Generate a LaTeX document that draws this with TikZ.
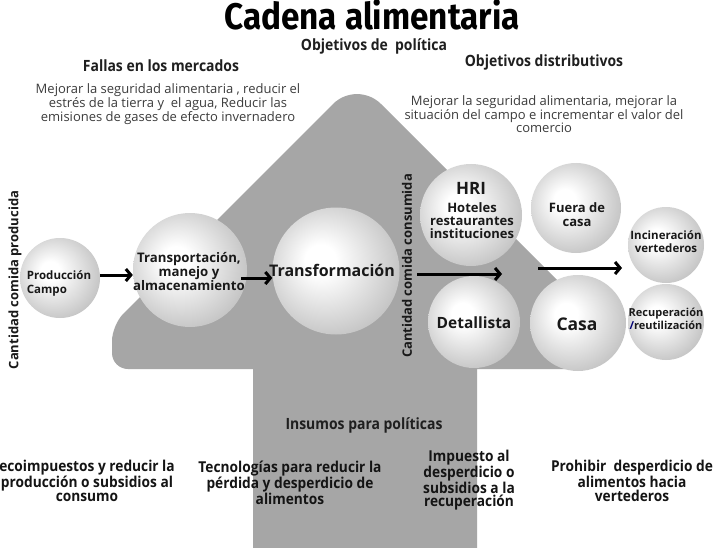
\documentclass[tikz,border=0pt]{standalone}
\usepackage{fontspec}
\usepackage{graphicx}
\setmainfont{Open Sans}
\newfontfamily\titlefont{Fira Sans}[FakeStretch=0.9]
\newfontfamily\condfont{Open Sans}[FakeStretch=0.9]
\newfontfamily\bcondfont{Open Sans}[FakeStretch=0.915]
\usetikzlibrary{arrows.meta,calc}
\definecolor{arrowgrey}{HTML}{A6A6A6}
\definecolor{circedge}{HTML}{BCBCBC}
\definecolor{bodytext}{HTML}{3C3C3C}
\pgfdeclareradialshading{myball}{\pgfpoint{-7bp}{5bp}}{color(0bp)=(white); color(6bp)=(white); color(32bp)=(circedge); color(50bp)=(circedge)}
\begin{document}
\begin{tikzpicture}[x=1pt,y=-1pt,
  ball/.style={circle, inner sep=0pt, shading=myball},
  flow/.style={line width=3pt, -{Straight Barb[length=5pt,width=12pt]}},
  head/.style={font=\condfont\bfseries\fontsize{15.5}{16}\selectfont, text=black!88, inner sep=1pt},
  para/.style={font=\fontsize{13}{13}\selectfont, text=bodytext, align=center},
  bottom/.style={font=\bcondfont\bfseries\fontsize{15}{13.5}\selectfont, align=center, text=black!92},
  inlbl/.style={font=\bfseries\fontsize{12.5}{13.5}\selectfont, align=center, text=black!90},
  vlbl/.style={font=\bfseries\fontsize{13}{15}\selectfont, rotate=90, text=black!90},
]
\useasboundingbox (0,0) rectangle (714,548);
\fill[white] (0,0) rectangle (714,548);
% big arrow
\fill[arrowgrey] (253,548) -- (253,369) [rounded corners=16] -- (112,369) -- (112,325) [rounded corners=34] -- (357,80) [rounded corners=16] -- (602,325) -- (602,369) [sharp corners] -- (477,369) -- (477,548) -- cycle;

% title and headings
\node[anchor=base, inner sep=0pt, text depth=0pt] (title) at (372,30) {\titlefont\bfseries\fontsize{37}{37}\selectfont Cadena alimentaria};
\node[head] (objpol) at (374,46) {Objetivos de\ \ política};
\node[head] (fallas) at (161,66) {Fallas en los mercados};
\node[head] (objdist) at (544,62) {Objetivos distributivos};
\node[para] (paraL) at (168,104) {Mejorar la seguridad alimentaria , reducir el\\estrés de la tierra y\ \ el agua, Reducir las\\emisiones de gases de efecto invernadero};
\node[para] (paraR) at (544,114) {Mejorar la seguridad alimentaria, mejorar la\\situación del campo e incrementar el valor del\\comercio};

% vertical labels
\node[vlbl] (vprod) at (15,280) {Cantidad comida producida};
\node[vlbl] (vcons) at (407,266) {Cantidad comida consumida};

% circles
\node[ball, minimum size=80] (prod) at (60,278) {};
\node[ball, minimum size=114] (trans) at (190,270) {};
\node[ball, minimum size=127] (transf) at (336,271) {};
\node[ball, minimum size=102] (hri) at (471,215) {};
\node[ball, minimum size=92] (detal) at (474,322) {};
\node[ball, minimum size=90] (fuera) at (576,208) {};
\node[ball, minimum size=96] (casa) at (578,323) {};
\node[ball, minimum size=76] (incin) at (666,245) {};
\node[ball, minimum size=76] (recup) at (666,322) {};

% circle texts
\node[inlbl, align=left, font=\bfseries\fontsize{11.5}{14}\selectfont] (prodtxt) at (59,283) {Producción\\Campo};
\node[inlbl, font=\bfseries\fontsize{13.2}{14}\selectfont] (transtxt) at (189,272) {Transportación,\\manejo y\\almacenamiento};
\node[inlbl, font=\bfseries\fontsize{16}{18}\selectfont] (transftxt) at (332,270) {Transformación};
\node[inlbl, font=\bfseries\fontsize{17}{18}\selectfont] (hritxt) at (471,188) {HRI};
\node[inlbl, font=\bfseries\fontsize{13}{13}\selectfont] (hrisub) at (472,221) {Hoteles\\restaurantes\\ instituciones};
\node[inlbl, font=\bfseries\fontsize{15.5}{18}\selectfont] (detaltxt) at (474,323) {Detallista};
\node[inlbl, font=\bfseries\fontsize{13}{14}\selectfont] (fueratxt) at (577,215) {Fuera de\\casa};
\node[inlbl, font=\bfseries\fontsize{17.5}{18}\selectfont] (casatxt) at (577,324) {Casa};
\node[inlbl, font=\bfseries\fontsize{11.5}{13}\selectfont] (incintxt) at (666,242) {Incineración\\vertederos};
\node[inlbl, font=\bfseries\fontsize{11}{12.5}\selectfont] (recuptxt) at (666,319) {Recuperación\\{\color{blue!45!black}/}reutilización};

% flow arrows
\coordinate (a1s) at ([yshift=3pt]prod.east);
\draw[flow] (a1s) -- (a1s -| trans.west);
\coordinate (a2s) at ([yshift=-8pt, xshift=-6pt]trans.east);
\draw[flow] (a2s) -- (a2s -| transf.west);
\coordinate (a3s) at (417,274);
\coordinate (a3e) at (502,274);
\draw[flow] (a3s) -- (a3e);
\coordinate (a4s) at (538,268);
\coordinate (a4e) at (622,268);
\draw[flow] (a4s) -- (a4e);

% bottom
\node[head] (insumos) at (364,425) {Insumos para políticas};
\node[bottom] (b1) at (87,481) {ecoimpuestos y reducir la\\producción o subsidios al\\consumo};
\node[bottom] (b2) at (290,483) {Tecnologías para reducir la\\pérdida y desperdicio de\\alimentos};
\node[bottom] (b3) at (469,480) {Impuesto al\\desperdicio o\\subsidios a la\\recuperación};
\node[bottom] (b4) at (632,481) {Prohibir\ \ desperdicio de\\alimentos hacia\\vertederos};
\end{tikzpicture}
\end{document}
